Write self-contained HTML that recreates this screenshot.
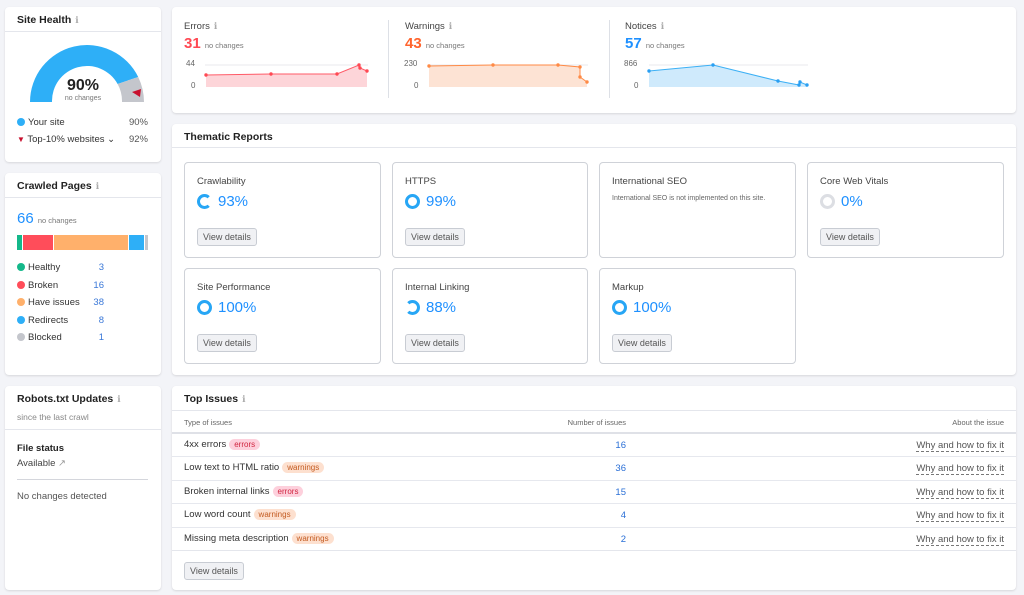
<!DOCTYPE html>
<html><head><meta charset="utf-8"><style>
*{box-sizing:border-box;margin:0;padding:0}
body{width:1024px;height:595px;background:#f3f4f8;font-family:"Liberation Sans",sans-serif;color:#333;position:relative;overflow:hidden;font-size:9.5px}
.c{position:absolute;background:#fff;border-radius:4px;box-shadow:0 1px 2px rgba(0,0,0,.12)}
.a{position:absolute;white-space:nowrap}
.t{font-weight:bold;font-size:10.5px;color:#222}
.i{color:#aaa;font-size:9px;font-weight:normal;margin-left:4px}
.hl{position:absolute;left:0;right:0;height:1px;background:#e4e6ec}
.sc{position:absolute;border:1px solid #cfd2d8;border-radius:4px;width:197px;height:96px}
.sc .n{position:absolute;left:12px;top:13px;font-size:9.5px;color:#444}
.sc .p{position:absolute;left:12px;top:30px;font-size:15px;color:#1e90ff;display:flex;align-items:center}
.ring{width:15px;height:15px;border-radius:50%;border:3px solid #27a6f5;margin-right:6px}
.btn{position:absolute;left:12px;top:65px;border:1px solid #c8ccd3;background:#f0f1f4;border-radius:3px;padding:3px 5px;font-size:9px;color:#555}
.dot{display:inline-block;width:8px;height:8px;border-radius:50%;margin-right:3px;vertical-align:-1px}
.tag{display:inline-block;border-radius:8px;padding:1px 5px;font-size:8px;margin-left:3px}
.e{background:#fdd0dc;color:#d0243f}.w{background:#fde0cf;color:#c35a20}
.row{position:absolute;left:0;right:0;height:23.5px;border-top:1px solid #e6e8ee}
.row span.l{position:absolute;left:12px;top:5px;font-size:9.5px;color:#333}
.row span.n{position:absolute;right:390px;top:6px;color:#2a6fd6}
.row span.f{position:absolute;right:12px;top:6px;color:#555;border-bottom:1px dashed #777}
</style></head><body>

<div class="c" style="left:5px;top:7px;width:156px;height:155px">
<div class="a t" style="left:12px;top:7px">Site Health<span class="i">ℹ</span></div>
<div class="hl" style="top:24px"></div>
<svg class="a" style="left:0;top:0" width="156" height="110">
<path d="M25,95 A57,57 0 0 1 133.2,70 L112.6,77 A35,35 0 0 0 47,95 Z" fill="#2eaff7"/>
<path d="M133.2,70 A57,57 0 0 1 139,95 L117,95 A35,35 0 0 0 112.6,77 Z" fill="#c4c6cc"/>
<path d="M127,85 L136,82 L135,90 Z" fill="#c8102e"/>
</svg>
<div class="a" style="left:0;width:156px;text-align:center;top:70px;font-size:16px;font-weight:bold;color:#222">90%</div>
<div class="a" style="left:0;width:156px;text-align:center;top:88px;font-size:7px;color:#777">no changes</div>
<div class="a" style="left:12px;top:110px"><span class="dot" style="background:#2eaff7"></span>Your site</div>
<div class="a" style="right:13px;top:110px;color:#555">90%</div>
<div class="a" style="left:12px;top:127px"><span style="color:#c8102e;font-size:8px">▼</span> Top-10% websites ⌄</div>
<div class="a" style="right:13px;top:127px;color:#555">92%</div>
</div>

<div class="c" style="left:5px;top:173px;width:156px;height:202px">
<div class="a t" style="left:12px;top:7px">Crawled Pages<span class="i">ℹ</span></div>
<div class="hl" style="top:24px"></div>
<div class="a" style="left:12px;top:37px;font-size:15px;color:#1e90ff">66 <span style="font-size:7.5px;color:#777">no changes</span></div>
<div class="a" style="left:12px;top:62px;height:15px;width:131px;display:flex;gap:1px">
<div style="width:5px;background:#14b88a"></div><div style="width:30px;background:#ff4d5a"></div><div style="width:74px;background:#ffb06b"></div><div style="width:15px;background:#2eaff7"></div><div style="width:3px;background:#c4c6cc"></div></div>
<div class="a" style="left:12px;top:86px;line-height:17.6px">
<div><span class="dot" style="background:#14b88a"></span>Healthy</div><div><span class="dot" style="background:#ff4d5a"></span>Broken</div><div><span class="dot" style="background:#ffb06b"></span>Have issues</div><div><span class="dot" style="background:#2eaff7"></span>Redirects</div><div><span class="dot" style="background:#c4c6cc"></span>Blocked</div></div>
<div class="a" style="left:70px;width:29px;text-align:right;top:86px;line-height:17.6px;color:#3a78d8">3<br>16<br>38<br>8<br>1</div>
</div>

<div class="c" style="left:5px;top:386px;width:156px;height:204px">
<div class="a t" style="left:12px;top:7px">Robots.txt Updates<span class="i">ℹ</span></div>
<div class="a" style="left:12px;top:26px;color:#888;font-size:8.5px">since the last crawl</div>
<div class="hl" style="top:43px"></div>
<div class="a" style="left:12px;top:57px;font-weight:bold;color:#222">File status</div>
<div class="a" style="left:12px;top:72px;color:#444">Available <span style="color:#999">↗</span></div>
<div class="a" style="left:12px;top:93px;width:131px;height:1px;background:#d4d6dc"></div>
<div class="a" style="left:12px;top:105px;color:#555">No changes detected</div>
</div>

<div class="c" style="left:172px;top:7px;width:844px;height:106px">
<div class="a" style="left:216px;top:13px;width:1px;height:78px;background:#dde0e6"></div>
<div class="a" style="left:437px;top:13px;width:1px;height:78px;background:#dde0e6"></div>
<div class="a" style="left:12px;top:14px;font-size:9.5px;color:#444">Errors<span class="i">ℹ</span></div>
<div class="a" style="left:12px;top:28px;font-size:15px;font-weight:bold;color:#ff4953">31&nbsp;<span style="font-size:7.5px;font-weight:normal;color:#777">no changes</span></div>
<div class="a" style="left:233px;top:14px;font-size:9.5px;color:#444">Warnings<span class="i">ℹ</span></div>
<div class="a" style="left:233px;top:28px;font-size:15px;font-weight:bold;color:#ff642d">43&nbsp;<span style="font-size:7.5px;font-weight:normal;color:#777">no changes</span></div>
<div class="a" style="left:453px;top:14px;font-size:9.5px;color:#444">Notices<span class="i">ℹ</span></div>
<div class="a" style="left:453px;top:28px;font-size:15px;font-weight:bold;color:#1e90ff">57&nbsp;<span style="font-size:7.5px;font-weight:normal;color:#777">no changes</span></div>
<div class="a" style="left:14px;top:52px;color:#666;font-size:8px">44</div><div class="a" style="left:19px;top:74px;color:#666;font-size:8px">0</div>
<div class="a" style="left:232px;top:52px;color:#666;font-size:8px">230</div><div class="a" style="left:242px;top:74px;color:#666;font-size:8px">0</div>
<div class="a" style="left:452px;top:52px;color:#666;font-size:8px">866</div><div class="a" style="left:462px;top:74px;color:#666;font-size:8px">0</div>
<svg class="a" style="left:0;top:0" width="844" height="106">
<g stroke="#e8e9ee"><line x1="33" y1="58" x2="196" y2="58"/><line x1="256" y1="58" x2="416" y2="58"/><line x1="477" y1="58" x2="636" y2="58"/></g>
<path d="M34,68 L99,67 L165,67 L187,58 L188,61 L195,64 L195,80 L34,80Z" fill="#fdd5d9"/>
<polyline points="34,68 99,67 165,67 187,58 188,61 195,64" fill="none" stroke="#ff5a67" stroke-width="1"/>
<g fill="#ff4953"><circle cx="34" cy="68" r="1.7"/><circle cx="99" cy="67" r="1.7"/><circle cx="165" cy="67" r="1.7"/><circle cx="187" cy="58" r="1.7"/><circle cx="188" cy="61" r="1.7"/><circle cx="195" cy="64" r="1.7"/></g>
<path d="M257,59 L321,58 L386,58 L408,60 L408,70 L415,75 L415,80 L257,80Z" fill="#fde3d4"/>
<polyline points="257,59 321,58 386,58 408,60 408,70 415,75" fill="none" stroke="#ff8a45" stroke-width="1"/>
<g fill="#ff8a45"><circle cx="257" cy="59" r="1.7"/><circle cx="321" cy="58" r="1.7"/><circle cx="386" cy="58" r="1.7"/><circle cx="408" cy="60" r="1.7"/><circle cx="408" cy="70" r="1.7"/><circle cx="415" cy="75" r="1.7"/></g>
<path d="M477,64 L541,58 L606,74 L627,78 L628,75 L635,78 L635,80 L477,80Z" fill="#cfeafc"/>
<polyline points="477,64 541,58 606,74 627,78 628,75 635,78" fill="none" stroke="#3cb0f5" stroke-width="1"/>
<g fill="#2a9ff2"><circle cx="477" cy="64" r="1.7"/><circle cx="541" cy="58" r="1.7"/><circle cx="606" cy="74" r="1.7"/><circle cx="627" cy="78" r="1.7"/><circle cx="628" cy="75" r="1.7"/><circle cx="635" cy="78" r="1.7"/></g>
</svg>
</div>

<div class="c" style="left:172px;top:124px;width:844px;height:251px">
<div class="a t" style="left:12px;top:7px">Thematic Reports</div>
<div class="hl" style="top:23px"></div>
<div class="sc" style="left:12px;top:38px"><div class="n">Crawlability</div><div class="p"><div class="ring" style="border-right-color:#fff"></div>93%</div><div class="btn">View details</div></div>
<div class="sc" style="left:220px;top:38px;width:196px"><div class="n">HTTPS</div><div class="p"><div class="ring"></div>99%</div><div class="btn">View details</div></div>
<div class="sc" style="left:427px;top:38px"><div class="n">International SEO</div><div class="a" style="left:12px;top:31px;font-size:7px;color:#666;white-space:normal;width:170px;line-height:10px">International SEO is not implemented on this site.</div></div>
<div class="sc" style="left:635px;top:38px"><div class="n">Core Web Vitals</div><div class="p"><div class="ring" style="border-color:#dcdee3"></div>0%</div><div class="btn">View details</div></div>
<div class="sc" style="left:12px;top:144px"><div class="n">Site Performance</div><div class="p"><div class="ring"></div>100%</div><div class="btn">View details</div></div>
<div class="sc" style="left:220px;top:144px;width:196px"><div class="n">Internal Linking</div><div class="p"><div class="ring" style="border-left-color:#fff"></div>88%</div><div class="btn">View details</div></div>
<div class="sc" style="left:427px;top:144px"><div class="n">Markup</div><div class="p"><div class="ring"></div>100%</div><div class="btn">View details</div></div>
</div>

<div class="c" style="left:172px;top:386px;width:844px;height:204px">
<div class="a t" style="left:12px;top:7px">Top Issues<span class="i">ℹ</span></div>
<div class="hl" style="top:24px"></div>
<div class="a" style="left:12px;top:32px;font-size:7.5px;color:#666">Type of issues</div>
<div class="a" style="right:390px;top:32px;font-size:7.5px;color:#666">Number of issues</div>
<div class="a" style="right:12px;top:32px;font-size:7.5px;color:#666">About the issue</div>
<div class="row" style="top:46px;border-top:2px solid #dfe1e7"><span class="l">4xx errors<span class="tag e">errors</span></span><span class="n">16</span><span class="f">Why and how to fix it</span></div>
<div class="row" style="top:70px"><span class="l">Low text to HTML ratio<span class="tag w">warnings</span></span><span class="n">36</span><span class="f">Why and how to fix it</span></div>
<div class="row" style="top:93.5px"><span class="l">Broken internal links<span class="tag e">errors</span></span><span class="n">15</span><span class="f">Why and how to fix it</span></div>
<div class="row" style="top:117px"><span class="l">Low word count<span class="tag w">warnings</span></span><span class="n">4</span><span class="f">Why and how to fix it</span></div>
<div class="row" style="top:140.5px"><span class="l">Missing meta description<span class="tag w">warnings</span></span><span class="n">2</span><span class="f">Why and how to fix it</span></div>
<div class="hl" style="top:164px"></div>
<div class="btn a" style="left:12px;top:176px;border:1px solid #c8ccd3;background:#f0f1f4;border-radius:3px;padding:3px 5px;color:#555">View details</div>
</div>
</body></html>
